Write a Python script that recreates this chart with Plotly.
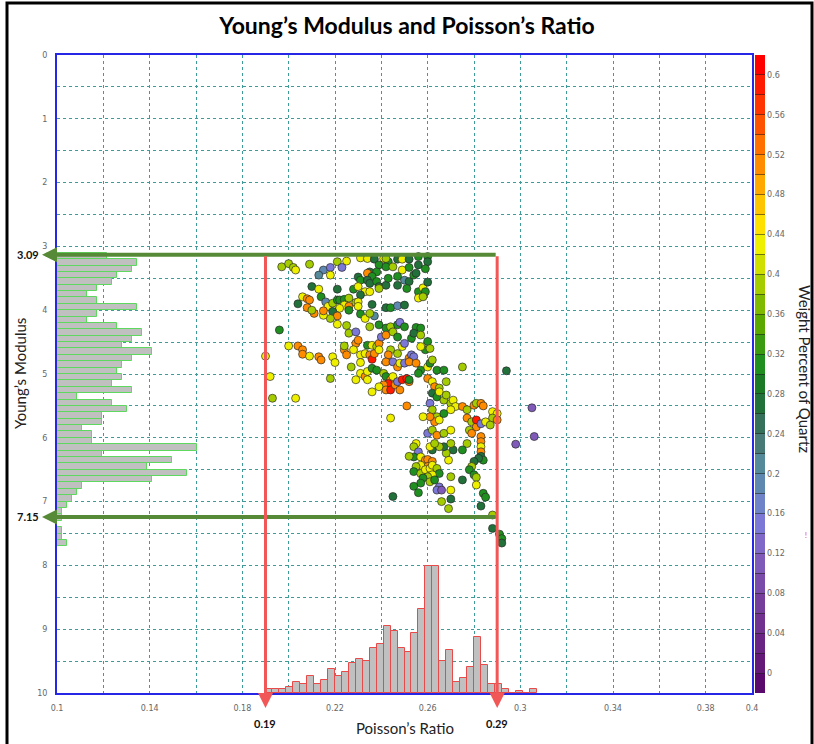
import plotly.graph_objects as go

# ---------------- data ----------------
X_RANGE = [0.1, 0.4]
Y_RANGE = [10, 0]
X_TICKS = [0.1, 0.14, 0.18, 0.22, 0.26, 0.3, 0.34, 0.38, 0.4]
X_TICKTEXT = ["0.1", "0.14", "0.18", "0.22", "0.26", "0.3", "0.34", "0.38", "0.4"]
Y_TICKS = [0, 1, 2, 3, 4, 5, 6, 7, 8, 9, 10]

# Poisson's ratio / Young's modulus / quartz weight fraction of each sample
PR = [0.197,0.200,0.202,0.203,0.209,0.215,0.218,0.218,0.213,0.221,
      0.225,0.223,0.231,0.234,0.237,0.241,0.243,0.242,0.247,0.249,
      0.252,0.256,0.260,0.260,0.239,0.242,0.245,0.249,0.252,0.256,
      0.259,0.235,0.234,0.238,0.236,0.230,0.231,0.234,0.235,0.238,
      0.239,0.242,0.243,0.247,0.250,0.252,0.254,0.255,0.247,0.251,
      0.256,0.258,0.260,0.259,0.256,0.258,0.210,0.213,0.221,0.228,
      0.230,0.233,0.231,0.235,0.239,0.206,0.208,0.209,0.214,0.216,
      0.204,0.217,0.219,0.221,0.222,0.224,0.226,0.229,0.230,0.224,
      0.226,0.222,0.219,0.221,0.218,0.215,0.215,0.211,0.208,0.210,
      0.226,0.230,0.236,0.242,0.244,0.247,0.250,0.231,0.233,0.237,
      0.235,0.239,0.221,0.225,0.196,0.235,0.242,0.244,0.247,0.248,0.250,0.255,0.257,
      0.200,0.204,0.206,0.206,0.209,0.213,0.214,0.219,0.220,0.224,
      0.225,0.224,0.226,0.229,0.229,0.230,0.228,0.231,0.231,0.233,
      0.235,0.236,0.237,0.234,0.236,0.238,0.239,0.240,0.242,0.245,
      0.247,0.239,0.244,0.243,0.242,0.245,0.247,0.248,0.250,0.252,
      0.253,0.254,0.252,0.247,0.249,0.250,0.253,0.254,0.257,0.260,
      0.259,0.261,0.257,0.255,0.257,0.260,0.261,0.262,0.264,0.267,
      0.256,0.260,0.262,0.263,0.265,0.268,0.275,0.227,0.231,0.233,
      0.234,0.236,0.238,0.241,0.242,0.244,0.245,0.243,0.241,0.239,
      0.242,0.244,0.246,0.247,0.248,0.249,0.252,0.251,0.252,0.229,
      0.234,0.236,0.218,0.203,0.251,0.262,0.264,0.265,0.267,0.268,
      0.270,0.271,0.272,0.275,0.277,0.280,0.281,0.261,0.262,0.264,
      0.263,0.265,0.267,0.270,0.261,0.244,0.258,0.277,0.279,0.281,
      0.278,0.260,0.262,0.264,0.267,0.270,
      0.190,0.192,0.193,0.294,0.305,0.306,0.298,0.281,0.283,0.279,0.245,
      0.283,0.284,0.288,0.290,0.288,0.285,0.287,0.290,0.283,0.283,
      0.283,0.283,0.283,0.284,0.282,0.280,0.279,0.278,0.280,0.281,
      0.281,0.284,0.285,0.283,0.288,0.288,0.291,0.292,0.292,
      0.277,0.275,0.271,0.269,0.268,0.267,0.270,0.265,0.262,0.261,
      0.263,0.255,0.254,0.256,0.254,0.252,0.257,0.259,0.260,0.262,
      0.260,0.257,0.255,0.254,0.257,0.259,0.261,0.262,0.264,0.265,
      0.262,0.260,0.258,0.261,0.257,0.254,0.256,0.263,0.265,0.264,
      0.266,0.270,0.270,0.275,0.266,0.269,0.270]
YM = [3.32,3.27,3.33,3.37,3.28,3.37,3.33,3.45,3.45,3.24,
      3.23,3.33,3.18,3.19,3.20,3.19,3.24,3.19,3.20,3.20,
      3.20,3.16,3.16,3.24,3.29,3.32,3.32,3.37,3.33,3.29,
      3.35,3.40,3.42,3.40,3.47,3.48,3.53,3.53,3.58,3.55,
      3.63,3.61,3.50,3.47,3.53,3.55,3.45,3.42,3.61,3.66,
      3.71,3.65,3.56,3.71,3.81,3.79,3.63,3.67,3.67,3.67,
      3.63,3.71,3.76,3.71,3.66,3.79,3.82,3.84,3.79,3.87,
      3.90,3.94,3.89,3.84,3.84,3.83,3.81,3.88,3.87,3.92,
      3.94,3.97,4.02,4.09,4.13,4.08,4.01,4.05,3.96,4.00,
      4.00,3.94,3.91,3.96,3.96,3.93,3.92,4.06,4.13,4.09,
      4.05,4.23,4.22,4.24,4.31,4.26,4.28,4.26,4.23,4.19,4.26,4.27,4.28,
      4.56,4.56,4.62,4.69,4.72,4.73,4.78,4.73,4.82,4.62,
      4.70,4.56,4.36,4.34,4.52,4.47,4.62,4.70,4.82,4.68,
      4.70,4.77,4.68,4.55,4.55,4.57,4.52,4.42,4.39,4.34,
      4.42,4.62,4.62,4.70,4.81,4.81,4.89,4.83,4.83,4.75,
      4.70,4.73,4.81,4.68,4.57,4.52,4.44,4.36,4.39,4.49,
      4.62,4.60,4.57,4.83,4.94,4.89,4.83,4.78,4.94,4.94,
      4.99,5.07,5.12,5.20,5.22,5.12,4.89,4.89,4.99,5.04,
      4.96,4.91,4.94,4.99,5.04,5.09,5.04,5.15,5.17,5.20,
      5.25,5.25,5.17,5.12,5.25,5.09,5.12,5.07,5.09,5.09,
      5.09,5.28,5.07,5.38,5.50,5.30,5.36,5.28,5.41,5.33,
      5.46,5.41,5.51,5.51,5.56,5.49,5.46,5.46,5.56,5.67,
      5.75,5.72,5.62,5.56,5.67,5.69,5.67,5.69,5.75,5.83,
      5.88,5.93,5.88,5.96,5.93,5.88,
      4.72,5.04,5.38,4.95,5.53,5.98,6.10,5.72,5.78,5.93,6.92,
      5.46,5.50,5.59,5.62,5.69,5.75,5.80,5.72,5.98,6.06,
      6.14,6.22,6.29,6.35,6.32,6.37,6.45,6.50,6.58,6.62,
      6.74,6.87,6.93,7.07,7.21,7.42,7.51,7.58,7.65,
      6.09,6.19,6.19,6.35,6.24,6.14,6.09,6.14,6.19,6.14,
      6.09,6.09,6.14,6.22,6.30,6.29,6.30,6.35,6.34,6.37,
      6.45,6.43,6.45,6.53,6.56,6.50,6.48,6.43,6.48,6.56,
      6.58,6.61,6.63,6.69,6.71,6.76,6.86,6.66,6.77,6.82,
      6.82,6.61,6.82,6.66,7.00,7.11,6.96]
QZ = [.39,.39,.39,.43,.39,.19,.15,.43,.21,.39,
      .43,.15,.43,.43,.27,.43,.31,.39,.27,.43,
      .27,.31,.31,.27,.31,.31,.39,.43,.31,.27,
      .31,.27,.51,.31,.31,.27,.31,.27,.27,.31,
      .27,.27,.31,.31,.21,.27,.31,.27,.27,.31,
      .31,.43,.27,.31,.43,.39,.27,.43,.27,.31,
      .43,.43,.27,.43,.39,.43,.51,.51,.31,.19,
      .27,.43,.39,.31,.31,.31,.39,.39,.43,.43,
      .51,.43,.27,.51,.39,.43,.51,.51,.51,.39,
      .31,.43,.27,.27,.31,.19,.27,.31,.43,.21,
      .39,.31,.43,.39,.31,.39,.31,.39,.31,.15,.31,.31,.31,
      .43,.51,.51,.51,.43,.51,.51,.43,.43,.51,
      .51,.39,.39,.15,.51,.51,.43,.43,.43,.43,
      .51,.58,.51,.31,.43,.39,.51,.15,.51,.39,
      .31,.43,.39,.51,.51,.15,.51,.43,.15,.51,
      .15,.15,.51,.39,.43,.15,.31,.27,.39,.31,
      .31,.39,.43,.51,.31,.43,.31,.39,.31,.31,
      .31,.51,.43,.51,.39,.39,.39,.39,.43,.51,
      .43,.31,.31,.39,.31,.51,.43,.58,.51,.43,
      .51,.58,.51,.15,.51,.58,.51,.58,.31,.43,
      .43,.43,.39,.43,.51,.27,.31,.43,.39,.39,
      .39,.43,.43,.51,.39,.51,.39,.15,.39,.39,
      .51,.43,.31,.43,.51,.43,.43,.51,.39,.51,
      .39,.15,.39,.51,.39,.43,
      .43,.43,.39,.27,.11,.11,.11,.58,.15,.51,.27,
      .51,.51,.43,.43,.39,.43,.39,.51,.51,.51,
      .43,.51,.27,.31,.27,.27,.39,.31,.31,.39,
      .43,.31,.31,.27,.39,.27,.31,.31,.27,
      .39,.31,.27,.43,.39,.27,.39,.39,.27,.43,
      .39,.43,.39,.15,.31,.39,.43,.51,.51,.51,
      .51,.43,.39,.31,.39,.43,.43,.43,.39,.31,
      .43,.39,.31,.39,.31,.31,.31,.31,.15,.15,
      .11,.39,.43,.27,.39,.39,.27]

# Young's modulus histogram (left, horizontal)
YM_BINS = [3.15,3.25,3.35,3.45,3.55,3.65,3.75,3.85,3.95,4.05,
           4.15,4.25,4.35,4.45,4.55,4.65,4.75,4.85,4.95,5.05,
           5.15,5.25,5.35,5.45,5.55,5.65,5.75,5.85,5.95,6.05,
           6.15,6.25,6.35,6.45,6.55,6.65,6.75,6.85,6.95,7.05,
           7.15,7.25,7.35,7.45,7.55,7.65]
YM_COUNTS = [10,16,15,12,11,8,6,8,16,8,
             6,12,17,15,13,19,15,13,12,13,
             11,15,4,11,14,9,9,5,7,7,
             28,9,23,18,26,19,5,4,3,2,
             1,1,0,1,1,2]
YM_BIN_WIDTH = 0.1

# Poisson's ratio histogram (bottom)
PR_BINS = [0.1915,0.1945,0.1975,0.2005,0.2035,0.2065,0.2095,0.2125,0.2155,0.2185,
           0.2215,0.2245,0.2275,0.2305,0.2335,0.2365,0.2395,0.2425,0.2455,0.2485,
           0.2515,0.2545,0.2575,0.2605,0.2635,0.2665,0.2695,0.2725,0.2755,0.2785,
           0.2815,0.2845,0.2875,0.2905,0.2935,0.2965,0.2995,0.3025,0.3055]
PR_COUNTS = [2,2,2,3,5,4,8,4,6,11,
             8,10,14,16,15,21,23,31,29,21,
             19,28,39,59,59,15,20,5,7,12,
             26,13,4,4,2,0,1,0,2]
PR_BIN_WIDTH = 0.003

# cut-off markers: label values and where the lines are drawn in the picture
YM_MARKS = [3.09, 7.15]
YM_MARK_DRAWN = [3.13, 7.24]
PR_MARKS = [0.19, 0.29]

# colour bar
QZ_RANGE = [-0.02, 0.62]
QZ_STEPS = [round(0.02 * k, 2) for k in range(31)]
BAND_COLORS = ['#5a0a6c', '#641878', '#6a2584', '#70318f', '#753e9b', '#7a4ba8',
               '#7f5ab8', '#8068c8', '#7c78d6', '#6f84c8', '#5f88b0', '#558a9a',
               '#487a78', '#35705a', '#22703a', '#1a7a25', '#1f8f1f', '#3a9a10',
               '#5aa800', '#7fba00', '#a5cc00', '#cfe000', '#eef000', '#ffe000',
               '#ffc400', '#ffa800', '#ff8c00', '#ff7000', '#ff5200', '#ff3400',
               '#ff1a00', '#ff0000']

# ---------------- layout geometry ----------------
FIG_W, FIG_H = 814, 744
M = dict(l=57, r=62, t=55, b=51)
PW = FIG_W - M['l'] - M['r']
PH = FIG_H - M['t'] - M['b']

def xpap(v):
    return (v - X_RANGE[0]) / (X_RANGE[1] - X_RANGE[0])

def ypap(v):
    return (Y_RANGE[0] - v) / (Y_RANGE[0] - Y_RANGE[1])

def px2pap(px):
    return (px - M['l']) / PW

def py2pap(py):
    return (FIG_H - M['b'] - py) / PH

GREEN = '#568a36'
RED = '#f25757'
GRID = '#3f9a9a'
BLUE = '#2626e6'
FONT = 'Lato'
TICKFONT = dict(family='DejaVu Sans', size=8, color='#666666')

n = len(BAND_COLORS)
colorscale = []
for i, c in enumerate(BAND_COLORS):
    colorscale.append([i / n, c])
    colorscale.append([(i + 1) / n, c])

fig = go.Figure()

fig.add_trace(go.Bar(
    x=YM_COUNTS, y=YM_BINS, orientation='h', width=YM_BIN_WIDTH,
    xaxis='x2', yaxis='y',
    marker=dict(color='#c0c0c0', line=dict(color='#5fd85f', width=1)),
    showlegend=False, hoverinfo='skip'))

fig.add_trace(go.Bar(
    x=PR_BINS, y=PR_COUNTS, width=PR_BIN_WIDTH,
    xaxis='x', yaxis='y2',
    marker=dict(color='#c0c0c0', line=dict(color='#e84a4a', width=1)),
    showlegend=False, hoverinfo='skip'))

fig.add_trace(go.Scatter(
    x=PR, y=YM, mode='markers', showlegend=False,
    marker=dict(size=8, color=QZ, colorscale=colorscale,
                cmin=QZ_RANGE[0], cmax=QZ_RANGE[1],
                line=dict(color='rgba(40,40,40,0.85)', width=0.8),
                showscale=True,
                colorbar=dict(
                    x=1 + 3 / PW, xanchor='left', xpad=0,
                    y=0.5, yanchor='middle', ypad=0, len=1, lenmode='fraction',
                    thickness=10, outlinewidth=0,
                    tickmode='array', tickvals=QZ_STEPS,
                    ticktext=[(('%g' % v) if (round(v / 0.02) % 2 == 0) else '') for v in QZ_STEPS],
                    ticks='inside', ticklen=10, tickwidth=1,
                    tickcolor='rgba(30,30,30,0.55)',
                    tickfont=TICKFONT))))

axis_common = dict(showgrid=True, gridcolor=GRID, gridwidth=1, griddash='dot',
                   showline=True, mirror=True, linecolor=BLUE, linewidth=2,
                   zeroline=False, tickfont=TICKFONT, ticks='')

fig.update_layout(
    width=FIG_W, height=FIG_H, margin=M,
    paper_bgcolor='white', plot_bgcolor='white',
    bargap=0,
    title=dict(text='<b>Young’s Modulus and Poisson’s Ratio</b>',
               x=0.5, xanchor='center', y=1 - 26 / FIG_H, yanchor='middle',
               font=dict(family=FONT, size=23, color='black')),
    xaxis=dict(range=X_RANGE, tickmode='array', tickvals=X_TICKS, ticktext=X_TICKTEXT,
               minor=dict(tickmode='linear', tick0=X_RANGE[0], dtick=0.02, showgrid=True,
                          gridcolor=GRID, griddash='dot', gridwidth=1),
               ticklabelstandoff=6, **axis_common),
    yaxis=dict(range=Y_RANGE, tickmode='array', tickvals=Y_TICKS,
               minor=dict(tickmode='linear', tick0=0, dtick=0.5, showgrid=True,
                          gridcolor=GRID, griddash='dot', gridwidth=1),
               ticklabelstandoff=6, **axis_common),
    xaxis2=dict(overlaying='x', range=[0, 139], visible=False),
    yaxis2=dict(overlaying='y', range=[0, 297], visible=False),
)

ann = []
# axis titles
ann.append(dict(text='Poisson’s Ratio', x=0.5, y=py2pap(728), xref='paper', yref='paper',
                xanchor='center', yanchor='middle',
                showarrow=False, font=dict(family=FONT, size=15, color='#222')))
ann.append(dict(text='Young’s Modulus', x=px2pap(20), y=0.5, xref='paper', yref='paper',
                xanchor='center', yanchor='middle',
                textangle=-90, showarrow=False, font=dict(family=FONT, size=15, color='#222')))
ann.append(dict(text='Weight Percent of Quartz', x=px2pap(805), y=py2pap(369), xref='paper',
                yref='paper', xanchor='center', yanchor='middle', textangle=90, showarrow=False,
                font=dict(family=FONT, size=15, color='#222')))
ann.append(dict(text='!', x=px2pap(806), y=py2pap(535), xref='paper', yref='paper',
                xanchor='center', yanchor='middle',
                showarrow=False, font=dict(family=FONT, size=7, color='#e03030')))

# green horizontal arrows (Young's modulus cut-offs)
tip_x = px2pap(42)
tail_x = xpap(PR_MARKS[1])
for v, d in zip(YM_MARKS, YM_MARK_DRAWN):
    ann.append(dict(text='', x=tip_x, y=ypap(d), xref='paper', yref='paper',
                    ax=(tail_x - tip_x) * PW, ay=0, axref='pixel', ayref='pixel',
                    showarrow=True, arrowhead=2, arrowsize=0.75, arrowwidth=4,
                    arrowcolor=GREEN, standoff=0, startstandoff=0))
    ann.append(dict(text='<b>%g</b>' % v, x=px2pap(41), y=ypap(d), xref='paper', yref='paper',
                    xanchor='right', yanchor='middle', showarrow=False,
                    font=dict(family=FONT, size=11, color='#111')))

# red vertical arrows (Poisson's ratio cut-offs)
tip_y = py2pap(708)
tail_y = ypap(YM_MARK_DRAWN[0])
for v in PR_MARKS:
    ann.append(dict(text='', x=xpap(v), y=tip_y, xref='paper', yref='paper',
                    ax=0, ay=-(tail_y - tip_y) * PH, axref='pixel', ayref='pixel',
                    showarrow=True, arrowhead=2, arrowsize=1, arrowwidth=3,
                    arrowcolor=RED, standoff=0, startstandoff=0))
    ann.append(dict(text='<b>%g</b>' % v, x=xpap(v), y=py2pap(723), xref='paper', yref='paper',
                    xanchor='center', yanchor='middle',
                    showarrow=False, font=dict(family=FONT, size=11, color='#111')))

fig.update_layout(annotations=ann)

# outer black frame
fig.add_shape(type='rect', xref='paper', yref='paper',
              x0=px2pap(7), x1=px2pap(812), y0=py2pap(747), y1=py2pap(3),
              line=dict(color='black', width=3), fillcolor='rgba(0,0,0,0)', layer='above')

fig.write_html('out.html')
